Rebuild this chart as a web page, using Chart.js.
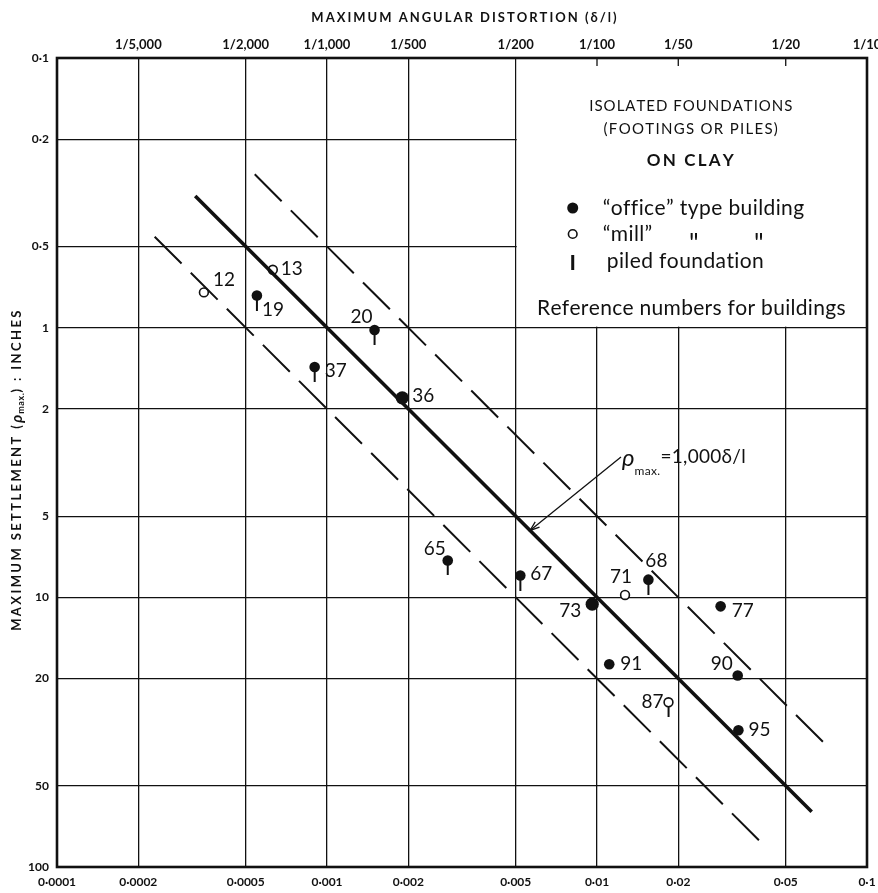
<!DOCTYPE html>
<html><head><meta charset="utf-8">
<script src="https://cdn.jsdelivr.net/npm/chart.js@4.4.1/dist/chart.umd.min.js"></script>
<style>html,body{margin:0;padding:0;background:#fff;}canvas{display:block}</style>
</head><body>
<div style="width:878px;height:893px"><canvas id="c" width="878" height="893"></canvas></div>
<script>
// ---- data ----
const refNumbers      = [12, 13, 19, 20, 37, 36, 65, 67, 71, 68, 73, 77, 91, 90, 87, 95];
const distortion      = [0.00035, 0.00063, 0.00055, 0.0015, 0.0009, 0.0019, 0.0028, 0.0052, 0.0127, 0.0155, 0.0096, 0.0287, 0.0111, 0.0332, 0.0184, 0.0334];
const settlement      = [0.74, 0.61, 0.76, 1.02, 1.4, 1.82, 7.3, 8.3, 9.8, 8.6, 10.6, 10.8, 17.7, 19.5, 24.5, 31.1];
const buildingType    = ['mill','mill','office','office','office','office','office','office','mill','office','office','office','office','office','mill','office'];
const piledFoundation = [false, false, true, true, true, false, true, true, false, true, false, false, false, false, true, false];

// lines: rho_max = 1000 delta/l (solid) and bounds 500 / 2000 (dashed) - endpoints
const trendLineX = [0.000325, 0.0624];
const trendLineY = [0.325, 62.4];
const upperBoundX = [0.00054, 0.074];
const upperBoundY = [0.27, 37];
const lowerBoundX = [0.00023, 0.042];
const lowerBoundY = [0.46, 84];
// arrow of the formula annotation (start, tip)
const arrowX = [0.01227, 0.00565];
const arrowY = [3.02, 5.65];

const xTickValues   = [0.0001, 0.0002, 0.0005, 0.001, 0.002, 0.005, 0.01, 0.02, 0.05, 0.1];
const xTickLabels   = ['0·0001','0·0002','0·0005','0·001','0·002','0·005','0·01','0·02','0·05','0·1'];
const topTickLabels = ['','1/5,000','1/2,000','1/1,000','1/500','1/200','1/100','1/50','1/20','1/10'];
const yTickValues   = [0.1, 0.2, 0.5, 1, 2, 5, 10, 20, 50, 100];
const yTickLabels   = ['0·1','0·2','0·5','1','2','5','10','20','50','100'];

// ---- styling / placement (not data) ----
const largeMarkers = [36, 73];
const labelPlacement = {
  12:[9,-13,'left'], 13:[8,-1,'left'], 19:[5,14,'left'], 20:[-2,-13,'right'],
  37:[10,4,'left'], 36:[10,-2,'left'], 65:[-2,-12,'right'], 67:[10,-2,'left'],
  71:[-4,-18,'center'], 68:[8,-19,'center'], 73:[-11,7,'right'], 77:[11,5,'left'],
  91:[11,0,'left'], 90:[-5,-12,'right'], 87:[-5,0,'right'], 95:[10,0,'left']
};
const INK = '#111';
const FONT = 'Lato, "Open Sans", "DejaVu Sans", sans-serif';

function pts(xs, ys){ return xs.map((v,i)=>({x:v, y:ys[i]})); }
function pick(type){ const out=[]; refNumbers.forEach((r,i)=>{ if(buildingType[i]===type) out.push({x:distortion[i], y:settlement[i], ref:r}); }); return out; }
function piledPts(){ const out=[]; refNumbers.forEach((r,i)=>{ if(piledFoundation[i]) out.push({x:distortion[i], y:settlement[i], ref:r}); }); return out; }

function stemImage(r, len){
  const c = document.createElement('canvas');
  c.width = 4; c.height = 2*(r+len);
  const g = c.getContext('2d');
  g.fillStyle = INK;
  g.fillRect(1, 2*r+len-1, 2, len+1);
  return c;
}
const stemImg = stemImage(5, 10);

// draw a run of text segments with extra letter spacing; align: 'left' | 'center'
function spaced(ctx, segs, x, y, align){
  let total = 0;
  segs.forEach(s=>{
    ctx.font = s.font;
    const sp = s.sp || 0;
    for (const ch of s.text) total += ctx.measureText(ch).width + sp;
  });
  let cx = align === 'center' ? x - total/2 : x;
  const prevAlign = ctx.textAlign;
  ctx.textAlign = 'left';
  segs.forEach(s=>{
    ctx.font = s.font;
    const sp = s.sp || 0;
    for (const ch of s.text){ ctx.fillText(ch, cx, y + (s.dy||0)); cx += ctx.measureText(ch).width + sp; }
  });
  ctx.textAlign = prevAlign;
}

const decorPlugin = {
  id: 'decor',
  beforeDatasetsDraw(chart){
    const {ctx, chartArea:a, scales:{x, y}} = chart;
    const bx = x.getPixelForValue(0.005), by = y.getPixelForValue(1);
    ctx.save();
    ctx.fillStyle = '#fff';
    ctx.fillRect(bx+1, a.top, a.right-bx-1, by-a.top-1);
    ctx.strokeStyle = INK; ctx.lineWidth = 1.3;
    [0.01, 0.02, 0.05].forEach(v=>{
      const px = x.getPixelForValue(v);
      ctx.beginPath(); ctx.moveTo(px, a.top); ctx.lineTo(px, a.top+8); ctx.stroke();
    });
    ctx.restore();
  },
  afterDatasetsDraw(chart){
    const {ctx, chartArea:a, scales:{x, y}} = chart;
    ctx.save();
    ctx.fillStyle = INK; ctx.strokeStyle = INK;
    // reference numbers
    ctx.font = '19px ' + FONT;
    ctx.textBaseline = 'middle';
    refNumbers.forEach((r,i)=>{
      const p = labelPlacement[r];
      const px = x.getPixelForValue(distortion[i]), py = y.getPixelForValue(settlement[i]);
      ctx.textAlign = p[2];
      ctx.fillText(String(r), px+p[0], py+p[1]);
    });
    // legend box text
    const bx = x.getPixelForValue(0.005);
    const cx = (bx + a.right)/2;
    spaced(ctx, [{text:'ISOLATED FOUNDATIONS', font:'15px '+FONT, sp:1}], cx, a.top+48, 'center');
    spaced(ctx, [{text:'(FOOTINGS OR PILES)', font:'15px '+FONT, sp:1.3}], cx, a.top+71, 'center');
    spaced(ctx, [{text:'ON CLAY', font:'bold 17px '+FONT, sp:2.2}], cx, a.top+103, 'center');
    const sx = bx + 57, tx = bx + 87;
    ctx.beginPath(); ctx.arc(sx, a.top+150, 5.5, 0, Math.PI*2); ctx.fill();
    ctx.lineWidth = 1.6;
    ctx.beginPath(); ctx.arc(sx, a.top+176, 4.3, 0, Math.PI*2); ctx.stroke();
    ctx.fillRect(sx-1.5, a.top+197, 3, 15);
    spaced(ctx, [{text:'\u201Coffice\u201D type building', font:'21px '+FONT, sp:0.4}], tx, a.top+150, 'left');
    spaced(ctx, [{text:'\u201Cmill\u201D', font:'21px '+FONT, sp:0.4}], tx, a.top+176, 'left');
    ctx.textBaseline = 'alphabetic';
    ctx.textAlign = 'center';
    ctx.font = '26px ' + FONT;
    ctx.fillText('"', bx+178, a.top+195);
    ctx.fillText('"', bx+243, a.top+195);
    ctx.textBaseline = 'middle';
    spaced(ctx, [{text:'piled foundation', font:'21px '+FONT, sp:0.4}], tx+4, a.top+203, 'left');
    spaced(ctx, [{text:'Reference numbers for buildings', font:'21px '+FONT, sp:0.3}], cx, a.top+250, 'center');
    // formula annotation with arrow
    const x0 = x.getPixelForValue(arrowX[0]), y0 = y.getPixelForValue(arrowY[0]);
    const x1 = x.getPixelForValue(arrowX[1]), y1 = y.getPixelForValue(arrowY[1]);
    ctx.lineWidth = 1.3;
    ctx.beginPath(); ctx.moveTo(x0, y0); ctx.lineTo(x1, y1); ctx.stroke();
    const ang = Math.atan2(y1-y0, x1-x0);
    ctx.beginPath();
    ctx.moveTo(x1 - 10*Math.cos(ang-0.35), y1 - 10*Math.sin(ang-0.35));
    ctx.lineTo(x1, y1);
    ctx.lineTo(x1 - 10*Math.cos(ang+0.35), y1 - 10*Math.sin(ang+0.35));
    ctx.stroke();
    ctx.textBaseline = 'alphabetic';
    spaced(ctx, [
      {text:'\u03C1', font:'italic 24px '+FONT, dy:9},
      {text:'max.', font:'12px '+FONT, dy:18, sp:0.3},
      {text:'=1,000\u03B4/l', font:'19px '+FONT, dy:6, sp:0.3}
    ], x0+1, y0, 'left');
    // frame
    ctx.lineWidth = 2.6;
    ctx.strokeRect(a.left, a.top, a.right-a.left, a.bottom-a.top);
    ctx.restore();
  },
  afterDraw(chart){
    const {ctx, chartArea:a} = chart;
    ctx.save();
    ctx.fillStyle = INK;
    ctx.textBaseline = 'middle';
    // top axis title
    spaced(ctx, [{text:'MAXIMUM ANGULAR DISTORTION (\u03B4/l)', font:'bold 13px '+FONT, sp:2}], (a.left+a.right)/2 + 3, 18, 'center');
    // left axis title (rotated)
    ctx.translate(17, (a.top+a.bottom)/2 + 7);
    ctx.rotate(-Math.PI/2);
    spaced(ctx, [
      {text:'MAXIMUM SETTLEMENT (', font:'bold 13px '+FONT, sp:2.4},
      {text:'\u03C1', font:'bold italic 15px '+FONT, sp:1},
      {text:'max.', font:'bold 9px '+FONT, dy:4, sp:0.6},
      {text:') : INCHES', font:'bold 13px '+FONT, sp:2.4}
    ], 0, 0, 'center');
    ctx.restore();
  }
};

function fixTicks(vals){ return (s)=>{ s.ticks = vals.map(v=>({value:v})); }; }

new Chart(document.getElementById('c'), {
  type: 'scatter',
  data: {
    datasets: [
      { type:'line', label:'\u03C1max = 1,000 \u03B4/l', data: pts(trendLineX, trendLineY), borderColor: INK, borderWidth: 3.6, pointRadius: 0, showLine: true, fill: false, borderCapStyle:'butt' },
      { type:'line', label:'upper bound', data: pts(upperBoundX, upperBoundY), borderColor: INK, borderWidth: 2, borderDash:[38,13], pointRadius: 0, showLine: true, fill: false, borderCapStyle:'butt' },
      { type:'line', label:'lower bound', data: pts(lowerBoundX, lowerBoundY), borderColor: INK, borderWidth: 2, borderDash:[38,13], pointRadius: 0, showLine: true, fill: false, borderCapStyle:'butt' },
      { label:'piled foundation', data: piledPts(), pointStyle: stemImg, pointRadius: 5, borderWidth: 0 },
      { label:'"office" type building', data: pick('office'), pointStyle:'circle', backgroundColor: INK, borderWidth: 0,
        pointRadius: (c)=> (c.raw && largeMarkers.includes(c.raw.ref)) ? 6.6 : 5.3 },
      { label:'"mill" type building', data: pick('mill'), pointStyle:'circle', backgroundColor:'#fff', borderColor: INK, borderWidth: 1.6, pointRadius: 4.4 }
    ]
  },
  options: {
    responsive: false, animation: false, events: [],
    layout: { padding: { left:0, right:11, top:0, bottom:0 }, autoPadding: false },
    plugins: { legend: { display:false }, tooltip: { enabled:false } },
    scales: {
      x: {
        type:'logarithmic', position:'bottom', min:0.0001, max:0.1,
        afterBuildTicks: fixTicks(xTickValues),
        afterFit(s){ s.height = 26; s.paddingLeft = 0; s.paddingRight = 0; },
        grid: { color: INK, lineWidth: 1.3, drawTicks: false },
        border: { display:false },
        ticks: { autoSkip:false, maxRotation:0, padding: 8, color: INK, font:{ family: FONT, size: 12, weight:'bold' },
                 callback: (v, i) => xTickLabels[i] }
      },
      x2: {
        type:'logarithmic', position:'top', min:0.0001, max:0.1,
        afterBuildTicks: fixTicks(xTickValues),
        afterFit(s){ s.height = 58; s.paddingLeft = 0; s.paddingRight = 0; },
        grid: { display:false, drawTicks:false },
        border: { display:false },
        ticks: { autoSkip:false, maxRotation:0, padding: 5, color: INK, font:{ family: FONT, size: 13, weight:'bold' },
                 callback: (v, i) => topTickLabels[i] }
      },
      y: {
        type:'logarithmic', position:'left', min:0.1, max:100, reverse:true,
        afterBuildTicks: fixTicks(yTickValues),
        afterFit(s){ s.width = 57; s.paddingTop = 0; s.paddingBottom = 0; },
        grid: { color: INK, lineWidth: 1.3, drawTicks: false },
        border: { display:false },
        ticks: { autoSkip:false, padding: 8, color: INK, font:{ family: FONT, size: 12, weight:'bold' },
                 callback: (v, i) => yTickLabels[i] }
      }
    }
  },
  plugins: [decorPlugin]
});
</script>
</body></html>
